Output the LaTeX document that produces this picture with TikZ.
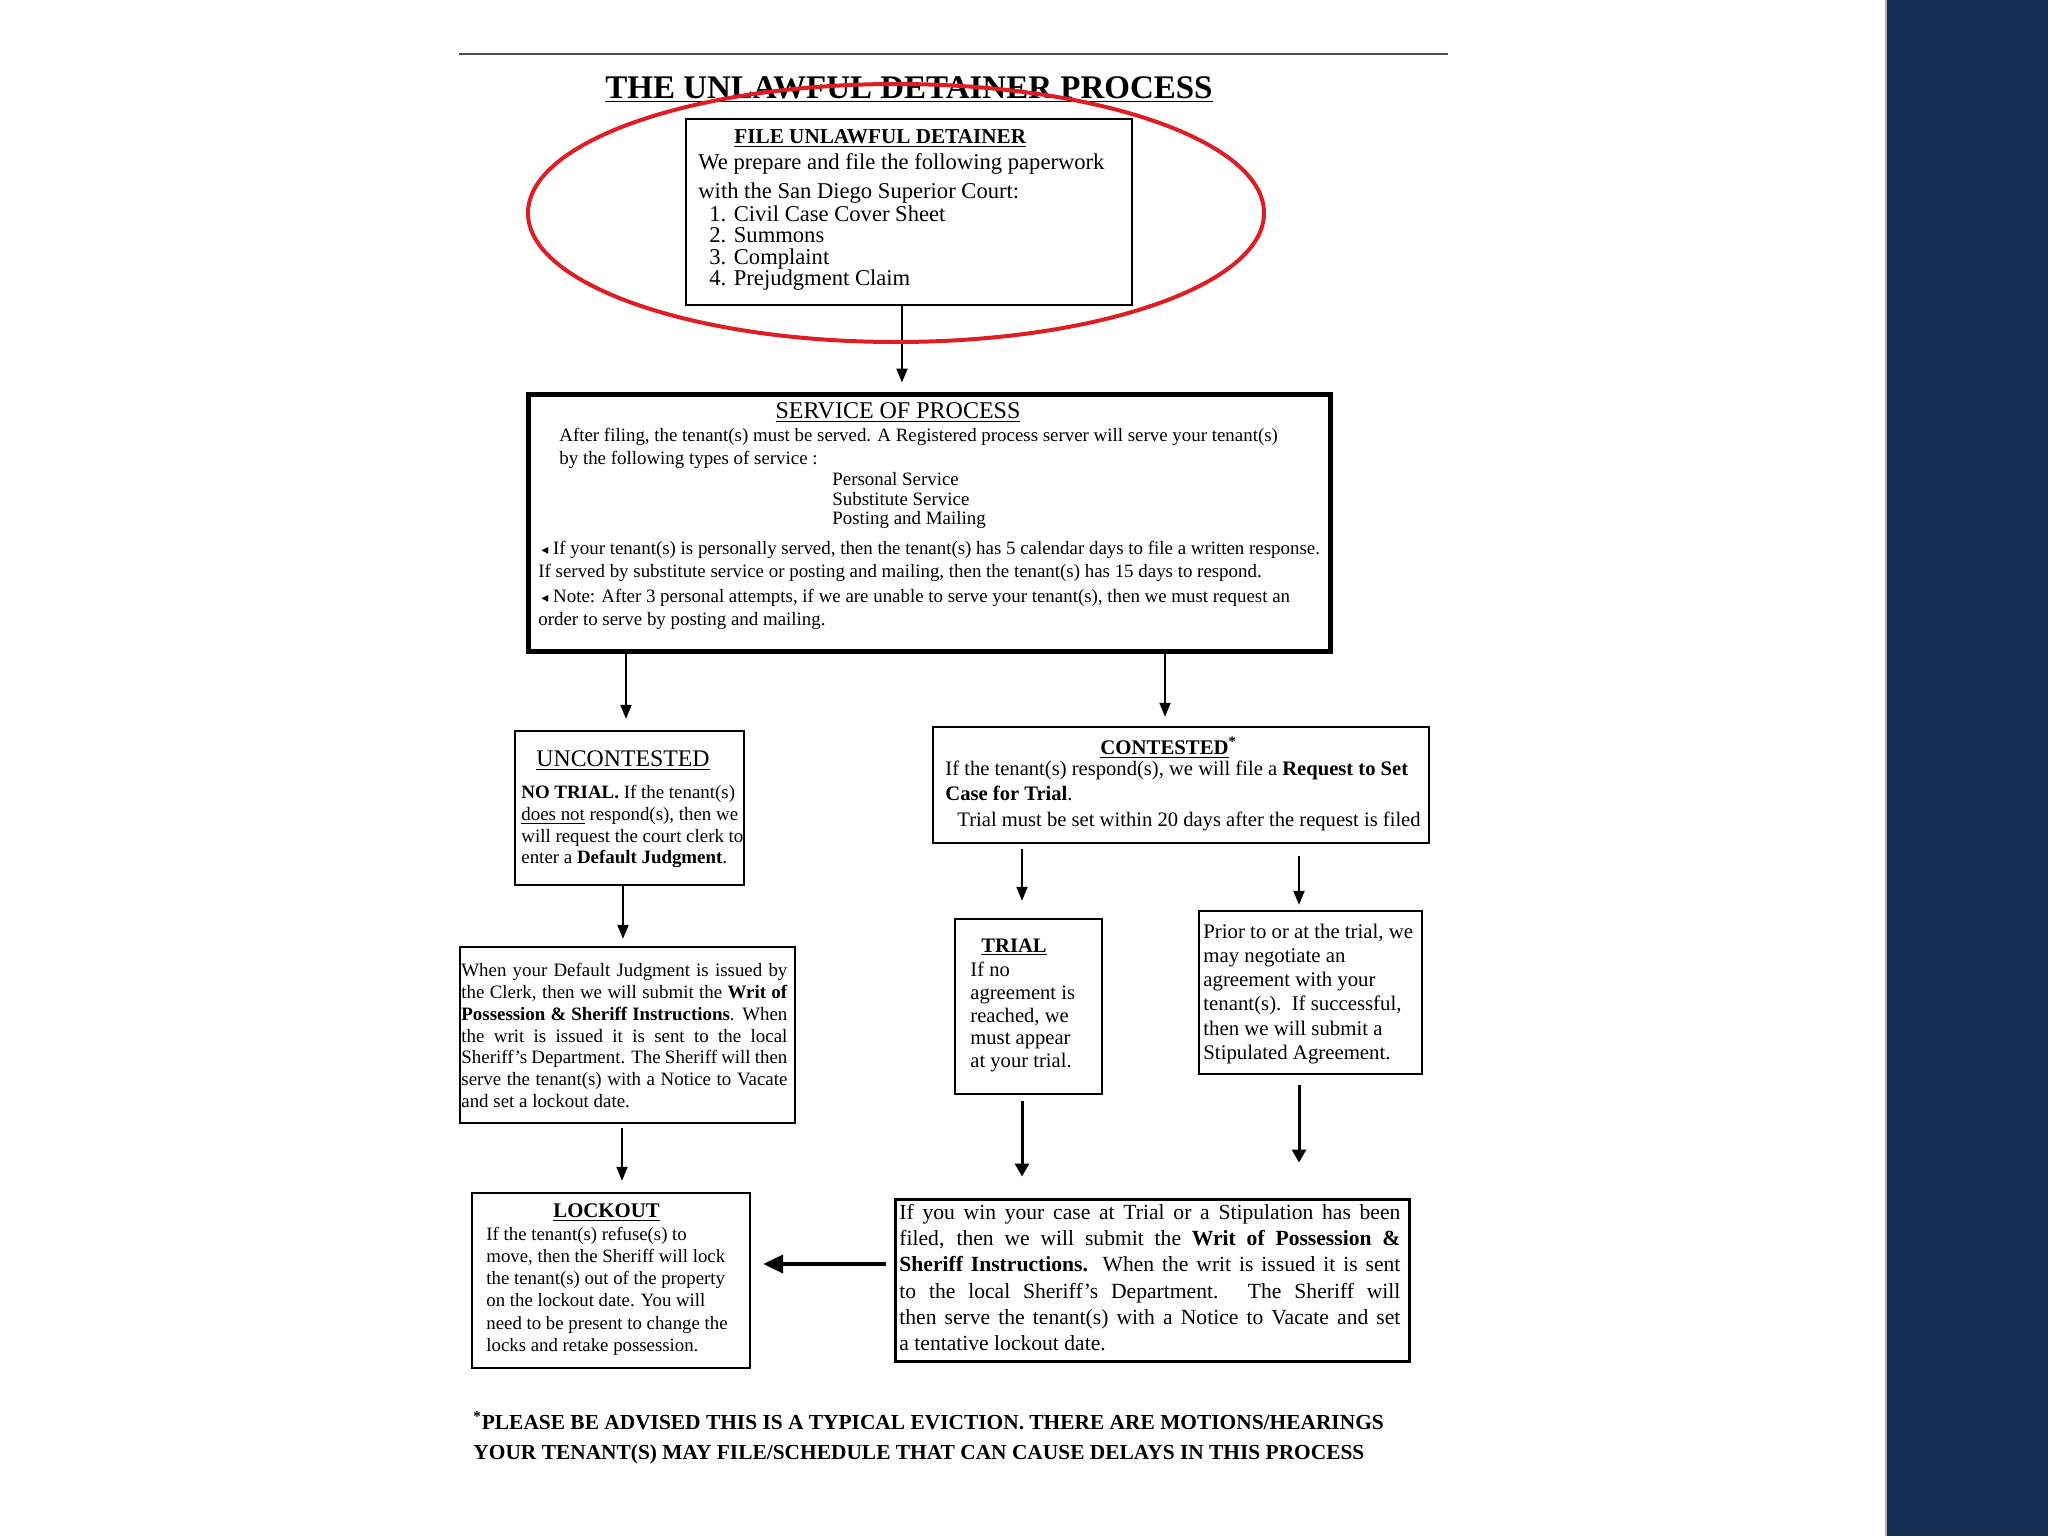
\documentclass[tikz,border=0pt]{standalone}
\usepackage{fontspec}
\setmainfont{Liberation Serif}
\newfontfamily\symfont{DejaVu Sans}
\usetikzlibrary{arrows.meta,fit,shapes.geometric}
\definecolor{navy}{RGB}{19,47,81}
\definecolor{ringred}{RGB}{222,30,36}
\newcommand\fs{\rule{0pt}{1em}}
\newcommand\tri{{\symfont\fontsize{7}{7}\selectfont ◂}}
\newcommand\fsz[2]{\fontsize{#1}{#2}\selectfont\lineskiplimit=-20pt\relax}
\begin{document}
\begin{tikzpicture}[x=0.5pt,y=-0.5pt,
  box/.style={draw=black, line width=1.2pt, inner sep=0pt},
  tx/.style={inner sep=0pt, anchor=north west, align=left},
  hd/.style={inner sep=0pt, anchor=base west},
  arr/.style={-{Triangle[length=7pt,width=5.5pt]}, line width=1pt},
  arrb/.style={-{Triangle[length=6.5pt,width=7pt]}, line width=1.5pt},
  arrh/.style={-{Triangle[length=10pt,width=9pt]}, line width=2pt},
]
\useasboundingbox (0,0) rectangle (2048,1536);
\fill[white] (0,0) rectangle (2048,1536);
\fill[navy] (1886,0) rectangle (2048,1536);
\draw[gray!60, line width=0.6pt] (1886,0) -- (1886,1536);
\draw[line width=1pt, black!70] (459,54) -- (1448,54);

% title
\node[anchor=base, inner sep=0pt, font=\fsz{16.5}{20}\bfseries] (title) at (909,98) {\underline{THE UNLAWFUL DETAINER PROCESS}};

% boxes
\node[box, line width=1pt, fit={(686,119)(1132,305)}] (file) {};
\node[box, line width=2.5pt, fit={(528,394)(1330,651)}] (serv) {};
\node[box, fit={(515,731)(744,885)}] (unc) {};
\node[box, fit={(933,727)(1429,843)}] (cont) {};
\node[box, fit={(460,947)(795,1123)}] (deflt) {};
\node[box, fit={(955,919)(1102,1094)}] (trial) {};
\node[box, fit={(1199,911)(1422,1074)}] (prior) {};
\node[box, fit={(472,1193)(750,1368)}] (lock) {};
\node[box, line width=1.5pt, fit={(895,1199)(1409,1361)}] (win) {};

% FILE UNLAWFUL DETAINER
\node[hd, font=\fsz{10.6}{13}\bfseries] (fileh) at (734,143.5) {\underline{FILE UNLAWFUL DETAINER}};
\node[tx, font=\fsz{11.3}{10.65}] (filet) at (698,146.4) {\fs We prepare and file the following paperwork\\[3.85pt]
with the San Diego Superior Court:\\[0.85pt]
\hspace*{5.5pt}1. Civil Case Cover Sheet\\
\hspace*{5.5pt}2. Summons\\
\hspace*{5.5pt}3. Complaint\\
\hspace*{5.5pt}4. Prejudgment Claim};

% SERVICE OF PROCESS
\node[anchor=base, inner sep=0pt, font=\fsz{12}{14}] (servh) at (898,418) {\underline{SERVICE OF PROCESS}};
\node[tx, font=\fsz{9.45}{9.75}] (servt) at (538,422.5) {\fs\hspace*{10.5pt}After filing, the tenant(s) must be served. A Registered process server will serve your tenant(s)\\[1.75pt]
\hspace*{10.5pt}by the following types of service :\\[0.75pt]
\hspace*{147pt}Personal Service\\
\hspace*{147pt}Substitute Service\\
\hspace*{147pt}Posting and Mailing\\[5.25pt]
\hspace*{1.5pt}\tri\ If your tenant(s) is personally served, then the tenant(s) has 5 calendar days to file a written response.\\[1.75pt]
If served by substitute service or posting and mailing, then the tenant(s) has 15 days to respond.\\[2.75pt]
\hspace*{1.5pt}\tri\ Note: After 3 personal attempts, if we are unable to serve your tenant(s), then we must request an\\[1.75pt]
order to serve by posting and mailing.};

% UNCONTESTED
\node[hd, font=\fsz{11.9}{14}] (unch) at (536,766) {\underline{UNCONTESTED}};
\node[tx, font=\fsz{9.45}{10.85}] (unct) at (521,779.3) {\fs\textbf{NO TRIAL.} If the tenant(s)\\
\underline{does not} respond(s), then we\\
will request the court clerk to\\
enter a \textbf{Default Judgment}.};

% default judgment
\node[tx, font=\fsz{9.45}{10.9}] (defltt) at (461,957.3) {\fs\makebox[163pt][s]{When your Default Judgment is issued by}\\
\makebox[163pt][s]{the Clerk, then we will submit the \textbf{Writ of}}\\
\makebox[163pt][s]{\textbf{Possession \& Sheriff Instructions}. When}\\
\makebox[163pt][s]{the writ is issued it is sent to the local}\\
\makebox[163pt][s]{Sheriff's Department. The Sheriff will then}\\
\makebox[163pt][s]{serve the tenant(s) with a Notice to Vacate}\\
and set a lockout date.};

% CONTESTED
\node[hd, font=\fsz{10.4}{13}\bfseries] (conth) at (1100,754) {\underline{CONTESTED}\textsuperscript{*}};
\node[tx, font=\fsz{10.3}{12.75}] (contt) at (945,754.2) {\fs If the tenant(s) respond(s), we will file a \textbf{Request to Set}\\
\textbf{Case for Trial}.\\
\hspace*{6pt}Trial must be set within 20 days after the request is filed};

% TRIAL
\node[hd, font=\fsz{10.3}{13}\bfseries] (trialh) at (981,952) {\underline{TRIAL}};
\node[tx, font=\fsz{10.3}{11.45}] (trialt) at (970,955.2) {\fs If no\\
agreement is\\
reached, we\\
must appear\\
at your trial.};

% PRIOR
\node[tx, font=\fsz{10.4}{12.1}] (priort) at (1203,917.1) {\fs Prior to or at the trial, we\\
may negotiate an\\
agreement with your\\
tenant(s).\ \ If successful,\\
then we will submit a\\
Stipulated Agreement.};

% LOCKOUT
\node[hd, font=\fsz{10.4}{13}\bfseries] (lockh) at (553,1217) {\underline{LOCKOUT}};
\node[tx, font=\fsz{9.4}{11.05}] (lockt) at (486,1221.4) {\fs If the tenant(s) refuse(s) to\\
move, then the Sheriff will lock\\
the tenant(s) out of the property\\
on the lockout date. You will\\
need to be present to change the\\
locks and retake possession.};

% WIN
\node[tx, font=\fsz{10.8}{13.1}] (wint) at (899,1197.5) {\fs\makebox[250.5pt][s]{If you win your case at Trial or a Stipulation has been}\\
\makebox[250.5pt][s]{filed, then we will submit the \textbf{Writ of Possession \&}}\\
\makebox[250.5pt][s]{\textbf{Sheriff Instructions.} When the writ is issued it is sent}\\
\makebox[250.5pt][s]{to the local Sheriff's Department. The Sheriff will}\\
\makebox[250.5pt][s]{then serve the tenant(s) with a Notice to Vacate and set}\\
a tentative lockout date.};

% footer
\node[tx, font=\fsz{10.7}{15}\bfseries] (foot) at (473,1407.6) {\fs\textsuperscript{*}PLEASE BE ADVISED THIS IS A TYPICAL EVICTION. THERE ARE MOTIONS/HEARINGS\\
YOUR TENANT(S) MAY FILE/SCHEDULE THAT CAN CAUSE DELAYS IN THIS PROCESS};

% connector x/y positions
\coordinate (c1) at (902,0);
\coordinate (c2) at (626,0);
\coordinate (c3) at (1165,0);
\coordinate (c4) at (623,0);
\coordinate (c5) at (622,0);
\coordinate (c6) at (1022,0);
\coordinate (c7) at (1299,0);
\coordinate (c8) at (0,1264);

\draw[arr, shorten >=4.5pt] (file.south -| c1) -- (serv.north -| c1);
\draw[arr, shorten >=5.5pt] (serv.south -| c2) -- (unc.north -| c2);
\draw[arr, shorten >=4.5pt] (serv.south -| c3) -- (cont.north -| c3);
\draw[arr, shorten >=3.5pt] (unc.south -| c4) -- (deflt.north -| c4);
\draw[arr, shorten <=2pt, shorten >=5.5pt] (deflt.south -| c5) -- (lock.north -| c5);
\draw[arr, shorten <=2.5pt, shorten >=8.5pt] (cont.south -| c6) -- (trial.north -| c6);
\draw[arr, shorten <=6pt, shorten >=2.5pt] (cont.south -| c7) -- (prior.north -| c7);
\draw[arrb, shorten <=3pt, shorten >=10.5pt] (trial.south -| c6) -- (win.north -| c6);
\draw[arrb, shorten <=5pt, shorten >=17.5pt] (prior.south -| c7) -- (win.north -| c7);
\draw[arrh, shorten <=4pt, shorten >=6pt] (win.west |- c8) -- (lock.east |- c8);

% red ring
\node[draw=ringred, line width=2pt, ellipse, minimum width=368pt, minimum height=129pt, inner sep=0pt] (ring) at (896,213) {};
\end{tikzpicture}
\end{document}
